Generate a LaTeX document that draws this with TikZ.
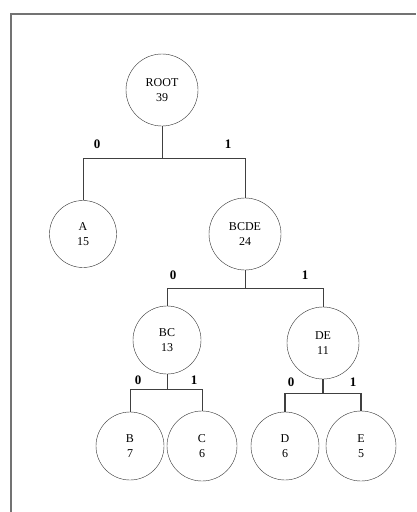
\documentclass[tikz,border=0pt]{standalone}
\usepackage{fontspec}
\setmainfont{Liberation Serif}
\begin{document}
\begin{tikzpicture}[
    x=1pt, y=-1pt,
    font=\fontsize{12}{15}\selectfont,
    tnode/.style={draw=black!80, circle, inner sep=0pt, minimum size=70pt, align=center},
    bit/.style={font=\fontsize{13}{13}\selectfont\bfseries, inner sep=0pt},
    link/.style={draw=black!75, line width=0.9pt}
]
\useasboundingbox (0,0) rectangle (416,512);
% frame
\draw[black!55, line width=1.6pt] (11,512) -- (11,14) -- (416,14);
% nodes
\node[tnode, minimum size=72pt] (root) at (162,90) {ROOT\\39};
\node[tnode, minimum size=67pt] (a) at (83,234) {A\\15};
\node[tnode, minimum size=72pt] (bcde) at (245,234) {BCDE\\24};
\node[tnode, minimum size=68pt] (bc) at (167,340) {BC\\13};
\node[tnode, minimum size=72pt] (de) at (323,343) {DE\\11};
\node[tnode, minimum size=68pt] (b) at (130,446) {B\\7};
\node[tnode] (c) at (202,446) {C\\6};
\node[tnode, minimum size=68pt] (d) at (285,446) {D\\6};
\node[tnode] (e) at (361,446) {E\\5};
% branches
\draw[link] (root.south) -- ++(0,32) -| (a.north);
\draw[link] (root.south) -- ++(0,32) -| (bcde.north);
\draw[link] (bcde.south) -- ++(0,18) -| (bc.north);
\draw[link] (bcde.south) -- ++(0,18) -| (de.north);
\draw[link] (bc.south) -- ++(0,15) -| (b.north);
\draw[link] (bc.south) -- ++(0,15) -| (c.north);
\draw[link, line width=1.3pt] (de.south) -- ++(0,14) -| (d.north);
\draw[link, line width=1.3pt] (de.south) -- ++(0,14) -| (e.north);
% bit labels
\node[bit] (r0) at (97,144) {0};
\node[bit] (r1) at (228,144) {1};
\node[bit] (bcde0) at (173,275) {0};
\node[bit] (bcde1) at (305,275) {1};
\node[bit] (bc0) at (138,380) {0};
\node[bit] (bc1) at (194,380) {1};
\node[bit] (de0) at (291,382) {0};
\node[bit] (de1) at (353,382) {1};
\end{tikzpicture}
\end{document}
